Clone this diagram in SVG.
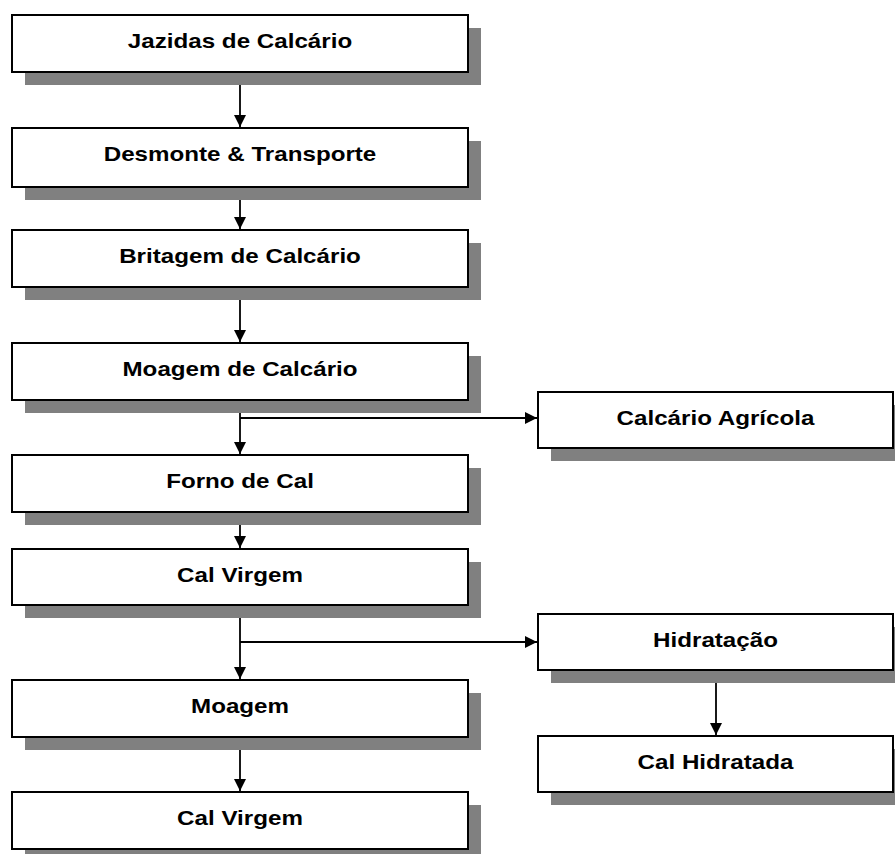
<svg xmlns="http://www.w3.org/2000/svg" width="895" height="854" viewBox="0 0 895 854">
  <style>
    .shadow { fill: #808080; }
    .box { fill: #ffffff; stroke: #000000; stroke-width: 2; }
    .label { font-family: "Liberation Sans", Arial, sans-serif; font-weight: bold; font-size: 19.5px; fill: #000000; text-anchor: middle; }
    .flow { fill: none; stroke: #000000; stroke-width: 1.8; }
  </style>
  <defs>
    <marker id="arrow" viewBox="0 0 12 13" refX="12" refY="6.5" markerWidth="12" markerHeight="13" markerUnits="userSpaceOnUse" orient="auto">
      <path d="M0,0.5 L12,6.5 L0,12.5 Z" fill="#000000"/>
    </marker>
  </defs>

  <rect width="895" height="854" fill="#ffffff"/>

  <!-- process boxes: shadow, frame, label -->
  <g id="jazidas">
    <rect class="shadow" x="25" y="28" width="456" height="57"/>
    <rect class="box" x="12" y="15" width="456" height="57"/>
    <text class="label" transform="translate(240,48) scale(1.24,1)">Jazidas de Calcário</text>
  </g>
  <g id="desmonte">
    <rect class="shadow" x="25" y="141" width="456" height="59"/>
    <rect class="box" x="12" y="128" width="456" height="59"/>
    <text class="label" transform="translate(240,161) scale(1.24,1)">Desmonte &amp; Transporte</text>
  </g>
  <g id="britagem">
    <rect class="shadow" x="25" y="243" width="456" height="57"/>
    <rect class="box" x="12" y="230" width="456" height="57"/>
    <text class="label" transform="translate(240,263) scale(1.24,1)">Britagem de Calcário</text>
  </g>
  <g id="moagem-calcario">
    <rect class="shadow" x="25" y="356" width="456" height="57"/>
    <rect class="box" x="12" y="343" width="456" height="57"/>
    <text class="label" transform="translate(240,376) scale(1.24,1)">Moagem de Calcário</text>
  </g>
  <g id="forno">
    <rect class="shadow" x="25" y="468" width="456" height="57"/>
    <rect class="box" x="12" y="455" width="456" height="57"/>
    <text class="label" transform="translate(240,488) scale(1.24,1)">Forno de Cal</text>
  </g>
  <g id="cal-virgem-1">
    <rect class="shadow" x="25" y="562" width="456" height="56"/>
    <rect class="box" x="12" y="549" width="456" height="56"/>
    <text class="label" transform="translate(240,582) scale(1.24,1)">Cal Virgem</text>
  </g>
  <g id="moagem">
    <rect class="shadow" x="25" y="693" width="456" height="57"/>
    <rect class="box" x="12" y="680" width="456" height="57"/>
    <text class="label" transform="translate(240,713) scale(1.24,1)">Moagem</text>
  </g>
  <g id="cal-virgem-2">
    <rect class="shadow" x="25" y="805" width="456" height="57"/>
    <rect class="box" x="12" y="792" width="456" height="57"/>
    <text class="label" transform="translate(240,825) scale(1.24,1)">Cal Virgem</text>
  </g>
  <g id="calcario-agricola">
    <rect class="shadow" x="551" y="405" width="355" height="56"/>
    <rect class="box" x="538" y="392" width="355" height="56"/>
    <text class="label" transform="translate(715.5,425) scale(1.24,1)">Calcário Agrícola</text>
  </g>
  <g id="hidratacao">
    <rect class="shadow" x="551" y="627" width="355" height="56"/>
    <rect class="box" x="538" y="614" width="355" height="56"/>
    <text class="label" transform="translate(715.5,647) scale(1.24,1)">Hidratação</text>
  </g>
  <g id="cal-hidratada">
    <rect class="shadow" x="551" y="749" width="355" height="56"/>
    <rect class="box" x="538" y="736" width="355" height="56"/>
    <text class="label" transform="translate(715.5,769) scale(1.24,1)">Cal Hidratada</text>
  </g>

  <!-- connectors -->
  <g id="connectors">
    <line class="flow" x1="240" y1="85" x2="240" y2="127" marker-end="url(#arrow)"/>
    <line class="flow" x1="240" y1="200" x2="240" y2="229" marker-end="url(#arrow)"/>
    <line class="flow" x1="240" y1="300" x2="240" y2="342" marker-end="url(#arrow)"/>
    <line class="flow" x1="240" y1="413" x2="240" y2="454" marker-end="url(#arrow)"/>
    <line class="flow" x1="240" y1="418" x2="537" y2="418" marker-end="url(#arrow)"/>
    <line class="flow" x1="240" y1="525" x2="240" y2="548" marker-end="url(#arrow)"/>
    <line class="flow" x1="240" y1="618" x2="240" y2="679" marker-end="url(#arrow)"/>
    <line class="flow" x1="240" y1="642" x2="537" y2="642" marker-end="url(#arrow)"/>
    <line class="flow" x1="240" y1="750" x2="240" y2="791" marker-end="url(#arrow)"/>
    <line class="flow" x1="716" y1="683" x2="716" y2="735" marker-end="url(#arrow)"/>
  </g>
</svg>
